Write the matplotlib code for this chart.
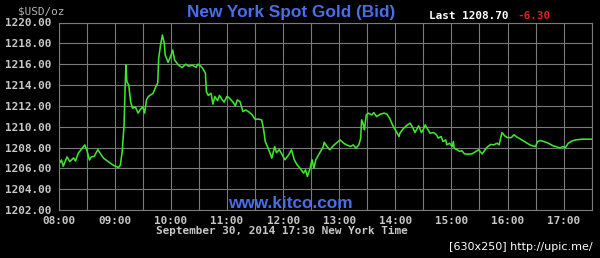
import matplotlib
matplotlib.use('Agg')
import matplotlib.pyplot as plt

# minutes after 08:00 New York time, and bid price
minutes = [0, 3, 5, 9, 12, 16, 18, 21, 25, 28, 30, 33, 35, 38, 42, 44, 48, 53, 59, 64,
           66, 68, 70, 71, 72, 73, 75, 77, 79, 82, 85, 87, 90, 92, 94, 96, 101, 104, 106, 107,
           109, 111, 113, 114, 117, 119, 122, 124, 128, 132, 136, 139, 143, 147, 149, 152, 154, 157, 158, 160,
           163, 165, 167, 170, 172, 175, 177, 180, 182,
           187, 189, 191, 194, 197, 200, 203, 207, 210, 214, 217, 219, 221, 224, 228, 231, 233, 236, 239, 242,
           246, 249, 252, 255, 258, 262, 264, 266, 269, 271, 273, 275, 279, 283, 284, 287, 290, 294, 298, 301,
           305, 308, 312, 315, 318, 321, 323, 324, 326, 327, 329, 331, 335, 337, 340, 344, 348, 351, 354, 357,
           360, 364,
           365, 369, 373, 376, 379, 381, 385, 388, 390, 392, 395, 397, 401, 404, 406, 409, 411, 414, 415, 418,
           421, 422, 423, 426, 429, 431, 434, 438, 442, 446, 449, 453, 456, 459, 462, 465, 469, 471, 474, 477,
           480, 484, 487, 490, 494, 497, 501, 504, 507, 510, 512, 515, 519, 522, 525, 529, 532, 536, 539, 542,
           545, 549, 553, 560, 570]
price = [1206.34, 1206.8, 1206.2, 1207.1, 1206.65, 1207.0, 1206.7, 1207.45, 1207.9, 1208.25,
         1207.8, 1206.8, 1207.1, 1207.15, 1207.8, 1207.5, 1206.98, 1206.65, 1206.27, 1206.08,
         1206.3, 1207.6, 1210.17, 1213.37, 1215.93, 1214.33, 1214.0, 1212.4, 1211.77, 1211.9,
         1211.3, 1211.6, 1211.9, 1211.3, 1212.57, 1212.9, 1213.2, 1213.85, 1214.2, 1216.57,
         1217.84, 1218.8, 1218.0, 1216.88, 1216.18, 1216.57, 1217.36, 1216.4, 1215.93, 1215.67,
         1216.0, 1215.8, 1215.9, 1215.7, 1216.0, 1215.8, 1215.6, 1215.13, 1213.37, 1213.0,
         1213.2, 1212.16, 1212.9, 1212.5, 1213.0, 1212.57, 1212.36, 1212.9, 1212.8,
         1212.3, 1211.99, 1212.57, 1212.4, 1211.45, 1211.6, 1211.45, 1211.13, 1210.72, 1210.72,
         1210.65, 1209.86, 1208.57, 1207.94, 1206.98, 1208.09, 1207.5, 1207.8, 1207.3, 1206.82,
         1207.3, 1207.78, 1206.82, 1206.34, 1206.02, 1205.54, 1205.86, 1205.22, 1206.02, 1206.82,
         1206.02, 1206.82, 1207.46, 1208.09, 1208.5, 1208.09, 1207.78, 1208.2, 1208.5, 1208.73,
         1208.4, 1208.25, 1208.09, 1208.25, 1207.94, 1208.25, 1208.89, 1210.65, 1210.17, 1209.7,
         1211.13, 1211.3, 1211.13, 1211.35, 1210.97, 1211.2, 1211.3, 1211.2, 1210.8, 1210.17,
         1209.7, 1209.05,
         1209.38, 1209.86, 1210.17, 1210.33, 1209.86, 1209.43, 1210.08, 1209.43, 1209.75, 1210.17,
         1209.7, 1209.38, 1209.43, 1209.22, 1208.9, 1209.06, 1208.57, 1208.73, 1208.26, 1208.41,
         1208.09, 1208.57, 1207.94, 1207.78, 1207.62, 1207.7, 1207.39, 1207.36, 1207.39, 1207.62,
         1207.78, 1207.39, 1207.78, 1208.09, 1208.3, 1208.25, 1208.41, 1208.25, 1209.43, 1209.12,
         1208.95, 1208.95, 1209.22, 1209.0, 1208.8, 1208.63, 1208.41, 1208.25, 1208.15, 1208.09,
         1208.57, 1208.67, 1208.57, 1208.47, 1208.35, 1208.15, 1208.09, 1207.94, 1208.09, 1208.0,
         1208.41, 1208.63, 1208.73, 1208.8, 1208.8]

y_ticks = [1202, 1204, 1206, 1208, 1210, 1212, 1214, 1216, 1218, 1220]
x_labels = ['08:00', '09:00', '10:00', '11:00', '12:00', '13:00', '14:00', '15:00', '16:00', '17:00']

last_price = '1208.70'
change = '-6.30'
timestamp = 'September 30, 2014 17:30 New York Time'

W, H = 600, 258
mono = 'DejaVu Sans Mono'
grey = '#c8c8c8'
gridc = '#7a7a7a'
blue = '#4a6ee8'

fig = plt.figure(figsize=(W / 100, H / 100), dpi=100, facecolor='black')
ax = fig.add_axes([58.6 / W, 1 - 210 / H, (591.7 - 58.6) / W, (210 - 22.5) / H], facecolor='black')

ax.plot(minutes, price, color='#3ee62c', lw=1.15)

ax.set_xlim(0, 570)
ax.set_ylim(1202, 1220)
ax.set_xticks(range(0, 571, 30), minor=True)
ax.set_xticks(range(0, 541, 60))
ax.set_xticklabels(x_labels)
ax.set_yticks(y_ticks)
ax.set_yticklabels(['%.2f' % v for v in y_ticks])
ax.grid(True, which='both', color=gridc, lw=0.8)
ax.tick_params(which='both', length=0)
ax.tick_params(axis='y', pad=5)
ax.tick_params(axis='x', pad=4)
for lab in ax.get_xticklabels() + ax.get_yticklabels():
    lab.set_fontfamily(mono)
    lab.set_fontweight('bold')
    lab.set_fontsize(7.9)
    lab.set_color(grey)
for s in ax.spines.values():
    s.set_color(gridc)
    s.set_linewidth(0.8)

# texts around the chart
def px(x, y):
    return x / W, 1 - y / H

fig.text(*px(18, 11), '$USD/oz', family=mono, fontsize=7.9, color='#b4b4b4', va='center')
fig.text(*px(291, 12), 'New York Spot Gold (Bid)', family='Liberation Sans', fontweight='bold',
         fontsize=12.4, color=blue, ha='center', va='center')
fig.text(*px(429, 16), 'Last ' + last_price, family=mono, fontweight='bold', fontsize=7.9,
         color='white', va='center')
fig.text(*px(517, 16), change, family=mono, fontweight='bold', fontsize=7.9, color='#e81e1e', va='center')
fig.text(*px(290, 203), 'www.kitco.com', family='Liberation Sans', fontweight='bold',
         fontsize=12.4, color=blue, ha='center', va='center')
fig.text(*px(156, 231), timestamp, family=mono, fontweight='bold', fontsize=7.9, color=grey, va='center')
fig.text(*px(593, 247), '[630x250] http://upic.me/', family='DejaVu Sans', fontsize=8,
         color='white', ha='right', va='center')

fig.savefig('out.png', dpi=100, facecolor='black')
